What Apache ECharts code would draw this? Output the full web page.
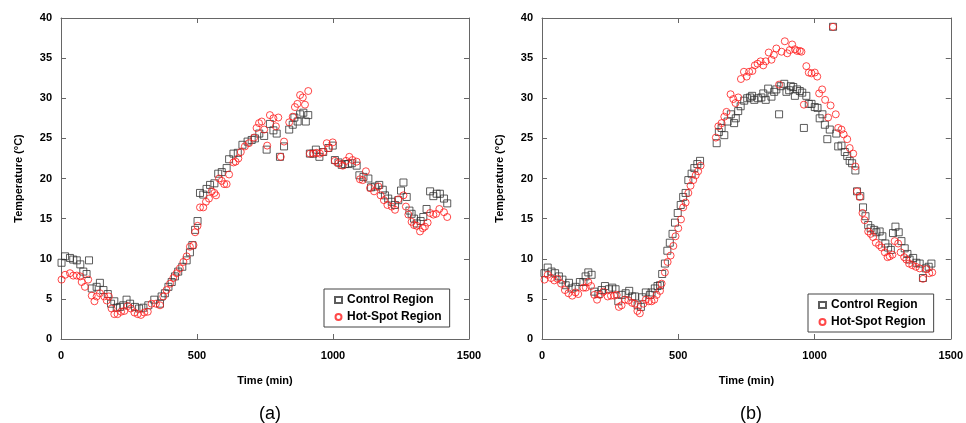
<!DOCTYPE html>
<html>
<head>
<meta charset="utf-8">
<script src="https://cdn.jsdelivr.net/npm/echarts@6/dist/echarts.min.js"></script>
<style>
  html, body { margin: 0; padding: 0; background: #fff; }
  #main { width: 966px; height: 423px; }
</style>
</head>
<body>
<div id="main"></div>
<script>
// (a) control region: [time, temp]
const ctrlA = [
  [2,9.5],[15,10.3],[33,10.1],[45,9.9],[58,9.8],[71,9.3],[82,8.4],[94,8.1],[103,9.8],[113,6.3],
  [131,6.5],[143,7.0],[156,6.1],[172,5.6],[184,4.4],[196,4.7],[205,3.9],[217,4.0],[229,4.2],[241,4.9],
  [254,4.4],[272,4.0],[287,3.8],[303,3.9],[321,4.2],[343,4.9],[364,4.4],[370,5.3],[382,5.7],[395,6.5],
  [407,7.1],[419,7.8],[431,8.4],[446,9.0],[462,9.8],[474,10.8],[483,11.7],[493,13.6],[502,14.7],[511,18.2],
  [523,18.0],[535,18.7],[548,19.2],[564,19.4],[578,20.6],[591,20.8],[609,21.3],[618,22.4],[634,23.1],[650,23.2],
  [667,24.2],[686,24.6],[701,24.8],[713,25.0],[729,25.6],[747,25.3],[756,23.6],[768,26.8],[781,26.0],[793,25.6],
  [805,22.7],[820,24.0],[839,26.1],[852,26.7],[858,27.6],[870,27.1],[879,28.0],[891,28.2],[900,27.1],[909,27.9],
  [915,23.1],[928,23.1],[937,23.6],[950,22.7],[964,23.3],[983,23.8],[999,24.1],[1007,22.3],[1020,22.0],[1032,21.7],
  [1044,21.8],[1056,21.8],[1069,21.9],[1087,21.6],[1097,20.4],[1112,20.2],[1130,20.0],[1140,18.9],[1154,19.0],[1170,19.2],
  [1183,18.6],[1191,17.9],[1203,17.5],[1216,17.1],[1228,16.7],[1240,17.3],[1250,18.5],[1259,19.5],[1271,17.7],[1281,16.0],
  [1289,15.6],[1298,15.0],[1308,14.4],[1322,14.7],[1332,15.2],[1344,16.2],[1357,18.4],[1369,17.8],[1381,18.1],[1393,18.1],
  [1408,17.5],[1420,16.9]
];
// (a) hot-spot region
const hotA = [
  [2,7.4],[15,8.0],[33,8.2],[45,7.9],[58,7.9],[71,7.8],[76,7.1],[88,6.5],[100,7.4],[113,5.4],
  [123,4.7],[131,5.3],[143,5.7],[159,5.3],[168,4.8],[176,5.3],[186,3.8],[196,3.1],[208,3.1],[221,3.4],
  [233,3.5],[245,4.1],[257,3.8],[270,3.3],[282,3.1],[294,3.0],[306,3.3],[319,3.4],[333,4.4],[349,4.4],
  [364,4.2],[376,5.3],[388,6.1],[401,6.9],[413,7.6],[425,8.2],[437,8.8],[450,9.6],[462,10.3],[474,11.5],
  [487,11.7],[493,13.3],[502,14.1],[511,16.4],[523,16.4],[533,17.1],[544,17.5],[554,18.4],[564,18.2],[570,17.9],
  [581,20.0],[591,19.7],[600,19.3],[609,19.3],[618,20.5],[634,22.0],[642,22.1],[652,22.5],[661,23.3],[676,24.0],
  [691,24.4],[710,25.1],[719,26.3],[728,26.9],[738,27.1],[747,26.1],[758,24.1],[768,27.9],[781,27.5],[790,26.5],
  [799,27.6],[808,22.7],[820,24.6],[839,27.0],[852,27.7],[860,28.9],[869,29.3],[879,30.4],[889,30.1],[897,29.2],
  [909,30.9],[915,23.1],[928,23.1],[940,23.2],[952,23.1],[964,23.3],[977,24.4],[985,23.8],[999,24.5],[1007,22.2],
  [1020,21.9],[1036,21.6],[1048,22.2],[1060,22.7],[1072,22.3],[1087,22.1],[1099,19.9],[1109,19.8],[1121,20.9],[1136,18.8],
  [1151,18.4],[1167,19.0],[1175,17.9],[1187,17.3],[1200,16.7],[1216,16.5],[1228,16.1],[1240,17.4],[1259,17.9],[1268,16.5],
  [1277,15.5],[1289,14.6],[1298,14.2],[1308,14.1],[1320,13.4],[1330,13.8],[1338,14.0],[1348,14.5],[1357,15.7],[1369,15.5],
  [1379,15.6],[1391,16.2],[1408,15.8],[1420,15.2]
];
// (b) control region
const ctrlB = [
  [9,8.2],[21,8.9],[35,8.4],[48,8.2],[62,7.8],[75,7.4],[87,6.7],[99,7.0],[109,6.3],[123,6.5],
  [139,7.1],[152,7.1],[160,7.8],[170,8.3],[182,8.0],[192,5.9],[207,5.6],[219,6.1],[231,6.6],[246,6.2],
  [258,6.4],[270,6.2],[280,4.7],[292,5.5],[307,5.7],[320,6.0],[331,5.3],[341,5.3],[351,4.2],[363,4.0],
  [368,5.2],[381,5.8],[396,5.5],[402,5.8],[414,6.3],[424,6.6],[433,6.7],[441,8.1],[451,9.4],[460,11.0],
  [469,12.0],[479,13.1],[488,14.5],[498,15.7],[509,16.7],[518,17.7],[527,18.2],[537,19.8],[549,20.6],[559,21.3],
  [570,21.8],[580,22.2],[641,24.4],[649,25.8],[659,26.3],[669,25.4],[681,27.1],[693,28.0],[705,26.9],[711,27.5],
  [720,28.4],[729,29.0],[742,29.7],[753,30.0],[763,30.1],[771,30.3],[779,29.8],[793,30.0],[805,30.1],[812,30.6],
  [821,29.8],[830,31.2],[842,30.2],[852,30.8],[860,31.1],[870,28.0],[876,31.5],[889,31.8],[897,30.8],[907,31.0],
  [913,31.5],[922,31.4],[928,30.3],[936,31.1],[946,30.9],[955,30.7],[961,26.3],[970,30.3],[979,29.3],[989,29.3],
  [1001,28.9],[1011,28.8],[1019,27.5],[1029,28.0],[1038,26.7],[1047,24.9],[1056,26.1],[1068,38.9],[1080,25.6],[1087,24.0],
  [1099,24.1],[1111,23.3],[1120,22.8],[1129,22.2],[1138,21.9],[1150,21.0],[1156,18.4],[1168,17.8],[1178,16.4],[1187,15.3],
  [1197,14.2],[1206,13.8],[1219,13.6],[1227,13.3],[1239,13.4],[1249,12.8],[1260,11.9],[1270,11.4],[1280,11.1],[1288,13.2],
  [1297,14.0],[1309,13.3],[1319,12.2],[1331,11.3],[1341,10.6],[1349,9.9],[1362,10.1],[1374,9.5],[1386,9.4],[1398,7.6],
  [1408,8.8],[1419,9.0],[1429,9.4]
];
// (b) hot-spot region
const hotB = [
  [9,7.4],[21,8.0],[33,7.6],[45,7.3],[57,7.5],[70,6.9],[84,6.1],[97,5.7],[111,5.4],[123,5.8],
  [133,5.6],[152,6.4],[161,6.4],[170,7.1],[180,6.6],[192,5.5],[202,4.9],[213,5.5],[225,5.9],[241,5.3],
  [253,5.4],[265,5.4],[274,5.5],[282,4.0],[292,4.2],[304,4.9],[317,4.8],[331,4.5],[341,4.4],[350,3.5],
  [359,3.2],[372,4.4],[381,4.9],[392,4.7],[402,4.7],[412,4.9],[421,5.5],[433,6.0],[439,6.9],[451,8.3],
  [461,9.6],[472,10.4],[482,11.6],[490,12.8],[500,13.8],[510,14.9],[518,16.4],[527,17.0],[537,18.2],[545,19.1],
  [555,19.8],[564,20.4],[573,20.9],[582,21.6],[638,25.1],[647,26.5],[659,26.9],[669,27.7],[677,28.3],[692,30.5],
  [702,29.9],[710,29.4],[720,30.1],[730,32.4],[741,33.3],[751,32.7],[760,33.3],[772,33.4],[781,34.1],[791,34.3],
  [802,34.6],[812,34.1],[821,34.6],[832,35.7],[842,34.8],[851,35.4],[860,36.2],[870,31.7],[879,35.8],[891,37.1],
  [900,35.6],[909,36.0],[918,36.7],[928,36.1],[936,35.9],[946,35.9],[952,35.8],[961,29.2],[970,34.0],[979,33.2],
  [989,33.1],[1001,33.2],[1010,32.7],[1017,30.6],[1028,31.1],[1039,29.8],[1050,27.6],[1059,29.1],[1068,38.9],[1078,28.0],
  [1087,26.3],[1099,26.1],[1107,25.5],[1120,24.9],[1129,23.8],[1142,23.1],[1150,21.5],[1156,18.4],[1166,17.7],[1176,15.7],
  [1184,14.8],[1197,13.4],[1206,13.1],[1215,12.7],[1225,12.0],[1237,11.7],[1246,11.4],[1258,10.8],[1268,10.2],[1276,10.3],
  [1286,10.5],[1294,12.2],[1307,11.9],[1316,10.8],[1329,10.2],[1337,9.9],[1347,9.4],[1359,9.2],[1372,9.0],[1386,8.8],
  [1398,7.5],[1411,8.7],[1421,8.2],[1432,8.3]
];
const seriesNames = ['Control Region', 'Hot-Spot Region'];
const panelLabels = ['(a)', '(b)'];

const axisColor = '#666';
const tickFont = { fontFamily: 'Liberation Sans, Arial, sans-serif', fontWeight: 'bold', fontSize: 11, color: '#000' };
const grids = [
  { left: 61, right: 497, top: 18, bottom: 84 },
  { left: 542, right: 15, top: 18, bottom: 84 }
];

function mainX(i) {
  return {
    type: 'value', gridIndex: i, min: 0, max: 1500, interval: 500,
    name: 'Time (min)', nameLocation: 'middle', nameGap: 36,
    nameTextStyle: tickFont,
    axisLine: { onZero: false, lineStyle: { color: axisColor, width: 1 } },
    axisTick: { inside: true, length: 5, lineStyle: { color: axisColor } },
    axisLabel: Object.assign({ margin: 11, formatter: v => String(v) }, tickFont),
    splitLine: { show: false }
  };
}
function mainY(i) {
  return {
    type: 'value', gridIndex: i, min: 0, max: 40, interval: 5,
    name: 'Temperature (°C)', nameLocation: 'middle', nameGap: 37, nameRotate: 90,
    nameTextStyle: tickFont,
    axisLine: { show: true, onZero: false, lineStyle: { color: axisColor, width: 1 } },
    axisTick: { show: true, inside: true, length: 5, lineStyle: { color: axisColor } },
    axisLabel: Object.assign({ margin: 9 }, tickFont),
    splitLine: { show: false }
  };
}
function frameX(i) {
  return {
    type: 'value', gridIndex: i, min: 0, max: 1500, interval: 500, position: 'top',
    axisLine: { onZero: false, lineStyle: { color: axisColor, width: 1 } },
    axisTick: { inside: true, length: 5, lineStyle: { color: axisColor } },
    axisLabel: { show: false }, splitLine: { show: false }
  };
}
function frameY(i) {
  return {
    type: 'value', gridIndex: i, min: 0, max: 40, interval: 5, position: 'right',
    axisLine: { show: true, onZero: false, lineStyle: { color: axisColor, width: 1 } },
    axisTick: { show: true, inside: true, length: 5, lineStyle: { color: axisColor } },
    axisLabel: { show: false }, splitLine: { show: false }
  };
}

function ctrlSeries(name, data, idx) {
  return {
    name: name, type: 'scatter', xAxisIndex: idx, yAxisIndex: idx,
    symbol: 'rect', symbolSize: 7, data: data, silent: true,
    itemStyle: { color: 'rgba(0,0,0,0)', borderColor: '#333', borderWidth: 1 }
  };
}
function hotSeries(name, data, idx) {
  return {
    name: name, type: 'scatter', xAxisIndex: idx, yAxisIndex: idx,
    symbol: 'circle', symbolSize: 7, data: data, silent: true,
    itemStyle: { color: 'rgba(0,0,0,0)', borderColor: '#ff1a1a', borderWidth: 1 }
  };
}

const legendBase = {
  orient: 'vertical', itemWidth: 7, itemHeight: 6, itemGap: 5, padding: [5, 8, 4, 10],
  backgroundColor: '#fff', borderColor: '#444', borderWidth: 1, borderRadius: 0,
  textStyle: { fontFamily: 'Liberation Sans, Arial, sans-serif', fontWeight: 'bold', fontSize: 12, color: '#000' },
  selectedMode: false
};

const chart = echarts.init(document.getElementById('main'), null, { renderer: 'canvas' });
chart.setOption({
  animation: false,
  backgroundColor: '#fff',
  grid: grids,
  xAxis: [mainX(0), mainX(1), frameX(0), frameX(1)],
  yAxis: [mainY(0), mainY(1), frameY(0), frameY(1)],
  legend: [
    Object.assign({}, legendBase, { left: 324, top: 289, data: ['aCtrl', 'aHot'],
      formatter: n => n === 'aCtrl' ? seriesNames[0] : seriesNames[1] }),
    Object.assign({}, legendBase, { left: 808, top: 294, data: ['bCtrl', 'bHot'],
      formatter: n => n === 'bCtrl' ? seriesNames[0] : seriesNames[1] })
  ],
  title: [
    { text: panelLabels[0], left: 265, top: 400, textAlign: 'center',
      textStyle: { fontFamily: 'Liberation Sans, Arial, sans-serif', fontWeight: 'normal', fontSize: 18, color: '#000' } },
    { text: panelLabels[1], left: 746, top: 400, textAlign: 'center',
      textStyle: { fontFamily: 'Liberation Sans, Arial, sans-serif', fontWeight: 'normal', fontSize: 18, color: '#000' } }
  ],
  series: [
    ctrlSeries('aCtrl', ctrlA, 0),
    hotSeries('aHot', hotA, 0),
    ctrlSeries('bCtrl', ctrlB, 1),
    hotSeries('bHot', hotB, 1)
  ]
});
</script>
</body>
</html>
